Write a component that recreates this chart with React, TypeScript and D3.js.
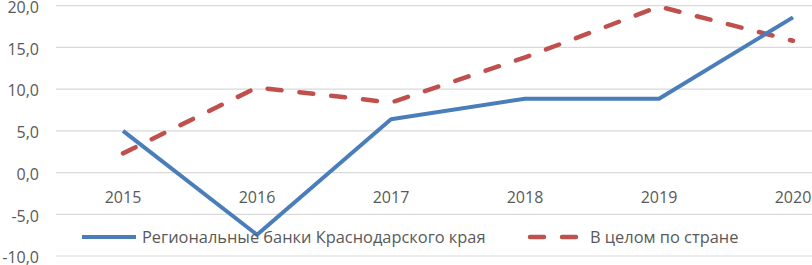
import React from "react";
import * as d3 from "d3";

const years = ["2015", "2016", "2017", "2018", "2019", "2020"];
const regional = [5.0, -7.45, 6.4, 8.85, 8.85, 18.6];
const country = [2.3, 10.2, 8.4, 13.8, 19.9, 15.8];
const yTicks = [-10, -5, 0, 5, 10, 15, 20];
const seriesNames = ["Региональные банки Краснодарского края", "В целом по стране"];

const W = 812;
const H = 265;
const FONT = "'Open Sans', 'Noto Sans', sans-serif";
const TEXT = "#595959";
const BLUE = "#4A7EBB";
const RED = "#C0504D";

export default function App() {
  const x = d3.scaleBand<string>().domain(years).range([56, 860]).padding(0);
  const cx = (d: string) => (x(d) as number) + x.bandwidth() / 2;
  const y = d3.scaleLinear().domain([-10, 20]).range([256, 5.7]);
  const line = d3
    .line<number>()
    .x((_, i) => cx(years[i]))
    .y((v) => y(v));

  return (
    <svg
      width={W}
      height={H}
      style={{ position: "absolute", left: 0, top: 0, background: "#fff" }}
      fontFamily={FONT}
    >
      {yTicks.map((t) => (
        <g key={t}>
          <line x1={56} x2={W} y1={y(t)} y2={y(t)} stroke="#D9D9D9" strokeWidth={1.2} />
          <text
            x={39}
            y={y(t) + 1.5}
            dy="0.36em"
            textAnchor="end"
            fontSize={16}
            fill={TEXT}
          >
            {d3.format(".1f")(t).replace(".", ",").replace("−", "-")}
          </text>
        </g>
      ))}
      {years.map((yr) => (
        <text key={yr} x={cx(yr)} y={203} textAnchor="middle" fontSize={16} fill={TEXT}>
          {yr}
        </text>
      ))}
      <path
        d={line(country) as string}
        fill="none"
        stroke={RED}
        strokeWidth={4.5}
        strokeDasharray="14 18"
        strokeLinecap="round"
        strokeLinejoin="round"
      />
      <path
        d={line(regional) as string}
        fill="none"
        stroke={BLUE}
        strokeWidth={4}
        strokeLinejoin="round"
      />
      <line x1={82} x2={136} y1={237} y2={237} stroke={BLUE} strokeWidth={4} />
      <text x={142} y={243} fontSize={16.4} fill={TEXT}>
        {seriesNames[0]}
      </text>
      <line
        x1={530}
        x2={579}
        y1={237}
        y2={237}
        stroke={RED}
        strokeWidth={4.5}
        strokeDasharray="14 18"
        strokeLinecap="round"
      />
      <text x={590} y={243} fontSize={16.4} fill={TEXT}>
        {seriesNames[1]}
      </text>
    </svg>
  );
}
